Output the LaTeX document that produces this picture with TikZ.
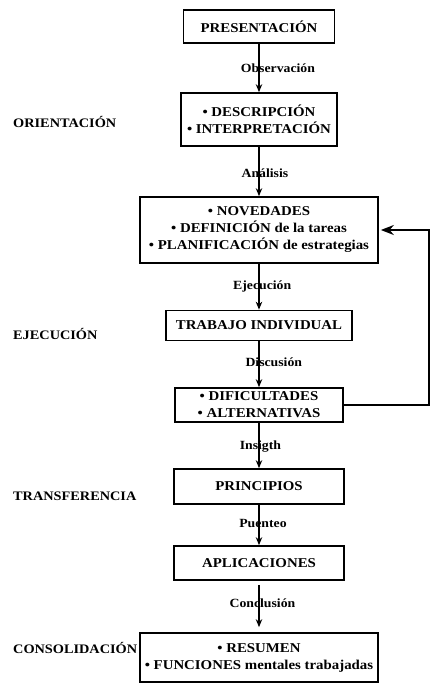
\documentclass[tikz,border=0pt]{standalone}
\usepackage{fontspec}
\setmainfont{Liberation Serif}[FakeStretch=1.1]
\usetikzlibrary{arrows.meta}
\begin{document}
\begin{tikzpicture}[x=1pt,y=-1pt,
  box/.style={draw, line width=1.7pt, inner sep=0pt, align=center,
    font=\fontsize{13.5}{17}\selectfont\bfseries},
  lbl/.style={inner sep=0pt, anchor=base west, font=\fontsize{12.5}{14}\selectfont\bfseries},
  side/.style={inner sep=0pt, anchor=base west, font=\fontsize{13}{15}\selectfont\bfseries},
  flow/.style={line width=1.3pt, -{Stealth[length=8pt,width=6.5pt]}},
  fb/.style={line width=1.8pt, -{Stealth[length=13pt,width=10pt]}}]
\useasboundingbox (0,0) rectangle (432,683);

% boxes
\node[box, minimum width=151pt, minimum height=33pt] (b1) at (259,26.5) {PRESENTACIÓN};
\node[box, minimum width=156pt, minimum height=53pt] (b2) at (259,119.5) {• DESCRIPCIÓN\\• INTERPRETACIÓN};
\node[box, minimum width=238pt, minimum height=66pt] (b3) at (259,230) {• NOVEDADES\\• DEFINICIÓN de la tareas\\• PLANIFICACIÓN de estrategias};
\node[box, minimum width=186pt, minimum height=30pt] (b4) at (259,325.5) {TRABAJO INDIVIDUAL};
\node[box, minimum width=168pt, minimum height=34pt] (b5) at (259,405) {• DIFICULTADES\\• ALTERNATIVAS};
\node[box, minimum width=170pt, minimum height=35pt] (b6) at (259,486.5) {PRINCIPIOS};
\node[box, minimum width=170pt, minimum height=34pt] (b7) at (259,563) {APLICACIONES};
\node[box, minimum width=238pt, minimum height=49pt] (b8) at (259,657.5) {• RESUMEN\\• FUNCIONES mentales trabajadas};

% phase labels
\node[side] (s1) at (13,127) {ORIENTACIÓN};
\node[side] (s2) at (13,339) {EJECUCIÓN};
\node[side] (s3) at (13,500) {TRANSFERENCIA};
\node[side] (s4) at (13,653) {CONSOLIDACIÓN};

% arrow labels
\node[lbl] (l1) at (240.7,72) {Observación};
\node[lbl] (l2) at (241.4,177) {Análisis};
\node[lbl] (l3) at (233,289) {Ejecución};
\node[lbl] (l4) at (245.3,366) {Discusión};
\node[lbl] (l5) at (239.6,449) {Insigth};
\node[lbl] (l6) at (239.1,527) {Puenteo};
\node[lbl] (l7) at (229.4,607) {Conclusión};

% connectors
\draw[flow] (b1.south) -- (b2.north);
\draw[flow] (b2.south) -- (b3.north);
\draw[flow] (b3.south) -- (b4.north);
\draw[flow] (b4.south) -- (b5.north);
\draw[flow] (b5.south) -- (b6.north);
\draw[flow] (b6.south) -- (b7.north);
\draw[flow, shorten <=4pt, shorten >=5pt] (b7.south) -- (b8.north);

\coordinate (fbx) at (429,0);
\draw[fb, shorten >=2pt] (b5.east) -| (fbx |- b3.east) -- (b3.east);
\end{tikzpicture}
\end{document}
